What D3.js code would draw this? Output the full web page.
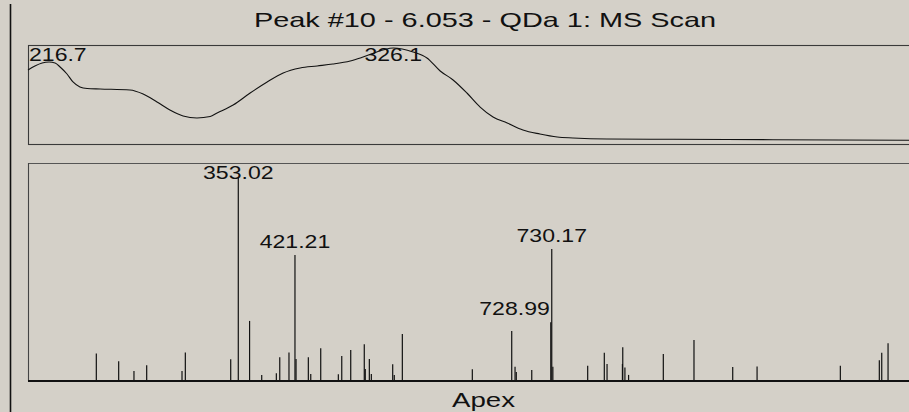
<!DOCTYPE html>
<html><head><meta charset="utf-8">
<script src="https://cdn.jsdelivr.net/npm/d3@7"></script>
<style>html,body{margin:0;padding:0;background:#d4d0c8;overflow:hidden}svg{display:block}</style>
</head><body>
<svg id="c" width="909" height="412"></svg>
<script>
// ---- data ----
const chartTitle = "Peak #10 - 6.053 - QDa 1: MS Scan";
const xAxisLabel = "Apex";

const uvWavelength = [210.0, 212.2, 214.5, 216.7, 218.6, 220.2, 222.4, 224.3, 226.5, 228.8, 232.9, 242.4, 246.6, 251.0, 255.1, 259.3, 263.7, 267.9, 270.1, 275.2, 280.6, 286.0, 291.1, 296.5, 301.9, 306.9, 312.4, 316.5, 322.8, 326.1, 332.4, 336.8, 341.0, 345.1, 349.5, 353.7, 357.8, 362.3, 367.3, 372.7, 378.2, 383.2, 394.0, 415.0, 446.8, 490.0];
const uvAbsorbance = [0.771, 0.813, 0.844, 0.854, 0.844, 0.802, 0.729, 0.646, 0.594, 0.578, 0.573, 0.563, 0.521, 0.438, 0.354, 0.292, 0.271, 0.286, 0.323, 0.406, 0.531, 0.646, 0.740, 0.792, 0.813, 0.833, 0.865, 0.906, 0.979, 1.000, 0.958, 0.896, 0.760, 0.667, 0.531, 0.385, 0.281, 0.219, 0.146, 0.104, 0.073, 0.063, 0.052, 0.049, 0.045, 0.039];
const uvPeakLabels = [216.7, 326.1];

const msMz = [182.2, 209.1, 227.5, 242.8, 285.3, 289.3, 343.9, 353.02, 366.6, 381.2, 398.8, 402.9, 414.0, 421.21, 422.5, 437.3, 440.2, 452.2, 473.4, 477.5, 488.3, 504.6, 505.8, 510.7, 513.1, 538.8, 540.7, 550.4, 634.6, 682.0, 686.0, 687.5, 706.1, 728.99, 730.17, 731.5, 773.4, 793.4, 796.7, 815.2, 815.6, 818.2, 822.6, 864.4, 901.3, 947.9, 977.2, 1077.4, 1124.3, 1127.2, 1134.8];
const msIntensity = [13.6, 9.7, 4.9, 7.7, 4.9, 14.1, 10.7, 100, 29.6, 3.0, 3.8, 11.7, 14.1, 62.1, 10.8, 11.7, 3.4, 16.1, 3.3, 12.3, 15.3, 18.1, 5.9, 10.8, 3.4, 8.2, 3.0, 23.2, 5.8, 24.6, 7.0, 4.4, 5.4, 28.9, 65.0, 7.0, 7.5, 13.9, 8.4, 8.4, 16.6, 6.7, 3.0, 13.3, 20.2, 6.9, 7.2, 7.5, 10.2, 13.9, 18.6];
const msPeakLabels = [353.02, 421.21, 728.99, 730.17];

// ---- layout ----
const svg = d3.select("#c");
const FONT = "'Liberation Sans', Arial, sans-serif";
const W = 909;
const left = 28;
const uvTop = 45, uvBottom = 144;
const msTop = 163, msBottom = 381;

svg.append("rect").attr("width", W).attr("height", 412).attr("fill", "#d4d0c8");

// outer left frame line
svg.append("line").attr("x1", 10.5).attr("x2", 10.5).attr("y1", 4).attr("y2", 412)
  .attr("stroke", "#111").attr("stroke-width", 1.6);

function stretchedText(g, txt, x, y, size, sx, anchor) {
  return g.append("text")
    .attr("transform", `translate(${x},${y}) scale(${sx},1)`)
    .attr("text-anchor", anchor || "middle")
    .attr("font-family", FONT).attr("font-size", size).attr("fill", "#111")
    .text(txt);
}

// title
stretchedText(svg, chartTitle, 485, 27, 20.2, 1.43);

// ---- UV panel ----
const xUV = d3.scaleLinear().domain([210, 490]).range([left, W]);
const yUV = d3.scaleLinear().domain([0, 1.031]).range([uvBottom, uvTop]);

svg.append("rect").attr("x", left + 0.5).attr("y", uvTop + 0.5)
  .attr("width", W).attr("height", uvBottom - uvTop)
  .attr("fill", "none").attr("stroke", "#3a3a3a").attr("stroke-width", 1.1);

const uvData = uvWavelength.map((w, i) => [w, uvAbsorbance[i]]);
svg.append("path").datum(uvData)
  .attr("fill", "none").attr("stroke", "#111").attr("stroke-width", 1.1)
  .attr("d", d3.line().x(d => xUV(d[0])).y(d => yUV(d[1])).curve(d3.curveMonotoneX));

const LBL = 18.6, LSX = 1.24, CAP = 13.3;
uvPeakLabels.forEach(w => {
  const i = uvWavelength.indexOf(w);
  const px = xUV(w), py = yUV(uvAbsorbance[i]);
  const base = Math.max(py - 7, uvTop + 3 + CAP);
  const t = stretchedText(svg, String(w), px, base, LBL, LSX, "middle");
  const wd = t.node().getComputedTextLength() * LSX;
  if (px - wd / 2 < left + 1) {
    t.attr("text-anchor", "start").attr("transform", `translate(${left + 1},${base}) scale(${LSX},1)`);
  }
});

// ---- MS panel ----
const xMS = d3.scaleLinear().domain([100, 1160]).range([left, W]);
const yMS = d3.scaleLinear().domain([0, 107.4]).range([msBottom, msTop]);

svg.append("line").attr("x1", left).attr("x2", W).attr("y1", msTop + 0.5).attr("y2", msTop + 0.5)
  .attr("stroke", "#555").attr("stroke-width", 1.1);
svg.append("line").attr("x1", left + 0.5).attr("x2", left + 0.5).attr("y1", msTop).attr("y2", msBottom)
  .attr("stroke", "#444").attr("stroke-width", 1.1);

const msData = msMz.map((m, i) => ({ mz: m, v: msIntensity[i] }));
svg.append("g").selectAll("line").data(msData).join("line")
  .attr("x1", d => xMS(d.mz)).attr("x2", d => xMS(d.mz))
  .attr("y1", msBottom).attr("y2", d => yMS(d.v))
  .attr("stroke", "#111").attr("stroke-width", 1.2);

svg.append("line").attr("x1", left).attr("x2", W).attr("y1", msBottom).attr("y2", msBottom)
  .attr("stroke", "#111").attr("stroke-width", 1.8);

msPeakLabels.forEach(m => {
  const i = msMz.indexOf(m);
  const px = xMS(m), py = yMS(msIntensity[i]);
  const base = Math.max(py - 7, msTop + 3 + CAP);
  // a taller labelled neighbour very close by pushes the label to the left
  const crowded = msPeakLabels.some(o => o !== m && Math.abs(xMS(o) - px) < 30 &&
    msIntensity[msMz.indexOf(o)] > msIntensity[i]);
  if (crowded) stretchedText(svg, m.toFixed(2), px - 1, base, LBL, LSX, "end");
  else stretchedText(svg, m.toFixed(2), px, base, LBL, LSX, "middle");
});

// x axis caption
stretchedText(svg, xAxisLabel, 483.5, 407.2, 20.2, 1.37);
</script>
</body></html>
